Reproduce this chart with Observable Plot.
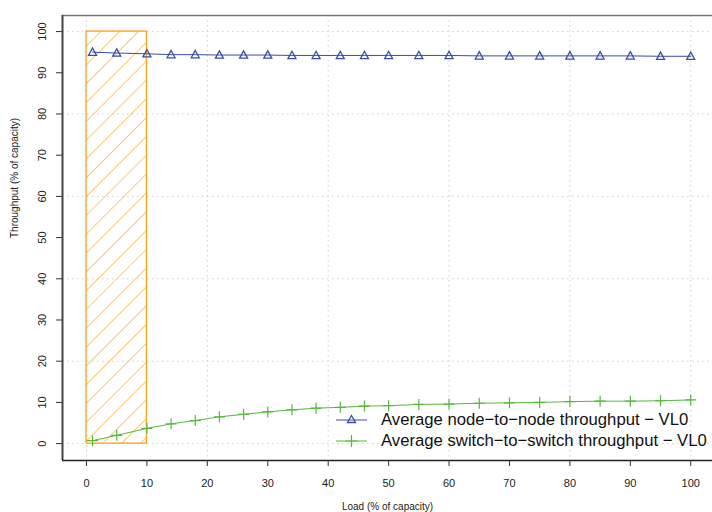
<!DOCTYPE html>
<html>
<head>
<meta charset="utf-8">
<script src="https://cdn.jsdelivr.net/npm/d3@7"></script>
<script src="https://cdn.jsdelivr.net/npm/@observablehq/plot@0.6"></script>
<style>
  body { margin: 0; background: #fff; font-family: "Liberation Sans", Arial, sans-serif; }
  #wrap { position: relative; width: 712px; height: 512px; }
  #legend { position: absolute; left: 335px; top: 409px; font-size: 16.7px; color: #111; }
  #legend .row { display: flex; align-items: center; height: 21px; }
  #legend svg { margin-right: 13px; }
</style>
</head>
<body>
<svg width="0" height="0" style="position:absolute">
  <defs>
    <pattern id="hatch" patternUnits="userSpaceOnUse" width="13.3" height="13.3" patternTransform="rotate(45)">
      <line x1="0" y1="0" x2="0" y2="13.3" stroke="#FFA21A" stroke-width="1.2"/>
    </pattern>
  </defs>
</svg>
<div id="wrap">
  <div id="chart"></div>
  <div id="legend">
    <div class="row">
      <svg width="33" height="14"><line x1="1" y1="7" x2="32" y2="7" stroke="#3A4DA8" stroke-width="1"/><path d="M16.5,2.5 L20.5,9.5 L12.5,9.5 Z" fill="none" stroke="#3A4DA8" stroke-width="1.3"/></svg>
      <span>Average node−to−node throughput − VL0</span>
    </div>
    <div class="row">
      <svg width="33" height="14"><line x1="1" y1="7" x2="32" y2="7" stroke="#55B83A" stroke-width="1"/><path d="M16.5,1 L16.5,13 M10.5,7 L22.5,7" stroke="#55B83A" stroke-width="1.2"/></svg>
      <span>Average switch−to−switch throughput − VL0</span>
    </div>
  </div>
</div>
<script>
const loads = [1, 5, 10, 14, 18, 22, 26, 30, 34, 38, 42, 46, 50, 55, 60, 65, 70, 75, 80, 85, 90, 95, 100];
const nodeToNode = [95.0, 94.8, 94.6, 94.4, 94.4, 94.3, 94.3, 94.3, 94.2, 94.2, 94.2, 94.2, 94.2, 94.2, 94.2, 94.1, 94.1, 94.1, 94.1, 94.1, 94.1, 94.0, 94.0];
const switchToSwitch = [0.7, 2.0, 3.7, 4.8, 5.6, 6.5, 7.1, 7.7, 8.2, 8.6, 8.8, 9.1, 9.2, 9.5, 9.6, 9.8, 9.9, 10.0, 10.2, 10.3, 10.3, 10.4, 10.6];
const xTicks = [0, 10, 20, 30, 40, 50, 60, 70, 80, 90, 100];
const yTicks = [0, 10, 20, 30, 40, 50, 60, 70, 80, 90, 100];
const gridX = [0, 20, 40, 60, 80, 100];
const gridY = [0, 20, 40, 60, 80, 100];
const hatchX = [0, 10];
const hatchY = [0, 100];
const xDomain = [-3.97, 103.6];
const yDomain = [-4.1, 103.9];

const blue = "#3A4DA8", green = "#55B83A", orange = "#FFA21A";
const nodeData = loads.map((x, i) => ({x, y: nodeToNode[i]}));
const switchData = loads.map((x, i) => ({x, y: switchToSwitch[i]}));

const triangle = {draw(ctx, size) { const r = Math.sqrt(size / Math.PI);
  ctx.moveTo(0, -r); ctx.lineTo(r * 0.95, r * 0.75); ctx.lineTo(-r * 0.95, r * 0.75); ctx.closePath(); }};
const plus = {draw(ctx, size) { const r = Math.sqrt(size / Math.PI);
  ctx.moveTo(-r, 0); ctx.lineTo(r, 0); ctx.moveTo(0, -r); ctx.lineTo(0, r); }};

const grid = {stroke: "#cfcfcf", strokeDasharray: "1.5,3.5", strokeWidth: 1, strokeOpacity: 1};

const chart = Plot.plot({
  width: 712, height: 512,
  marginLeft: 62, marginRight: 0, marginTop: 15, marginBottom: 52,
  style: {fontFamily: "Liberation Sans, Arial, sans-serif", background: "transparent"},
  x: {domain: xDomain, axis: null},
  y: {domain: yDomain, axis: null},
  marks: [
    Plot.ruleY(gridY, grid),
    Plot.ruleX(gridX, grid),
    Plot.rect([{x1: hatchX[0], x2: hatchX[1], y1: hatchY[0], y2: hatchY[1]}], {x1: "x1", x2: "x2", y1: "y1", y2: "y2", fill: "url(#hatch)", stroke: orange, strokeWidth: 1.3}),
    Plot.line(nodeData, {x: "x", y: "y", stroke: blue, strokeWidth: 1}),
    Plot.dot(nodeData, {x: "x", y: "y", symbol: triangle, r: 4.2, stroke: blue, fill: "none", strokeWidth: 1.3}),
    Plot.line(switchData, {x: "x", y: "y", stroke: green, strokeWidth: 1}),
    Plot.dot(switchData, {x: "x", y: "y", symbol: plus, r: 5.5, stroke: green, fill: "none", strokeWidth: 1.2}),
    // frame lines
    Plot.ruleY([yDomain[1]], {stroke: "#777", strokeWidth: 1.5}),
    Plot.ruleX([xDomain[0]], {stroke: "#444", strokeWidth: 2}),
    Plot.ruleY([yDomain[0]], {stroke: "#222", strokeWidth: 1.3}),
    // ticks
    Plot.axisY({ticks: yTicks, tickSize: 6, tickFormat: () => "", label: null, stroke: "#333"}),
    Plot.axisX({ticks: xTicks, tickSize: 6, tickFormat: () => "", label: null, stroke: "#333"}),
    Plot.text(yTicks, {y: d => d, text: d => String(d), frameAnchor: "left", dx: -20, rotate: -90, textAnchor: "middle", lineAnchor: "middle", fontSize: 11, fill: "#222"}),
    Plot.text(xTicks, {x: d => d, text: d => String(d), frameAnchor: "bottom", dy: 23, textAnchor: "middle", lineAnchor: "middle", fontSize: 11, fill: "#222"}),
    Plot.text(["Load (% of capacity)"], {frameAnchor: "bottom", dy: 46, lineAnchor: "middle", fontSize: 10, fill: "#222"}),
    Plot.text(["Throughput (% of capacity)"], {frameAnchor: "left", dx: -48, rotate: -90, lineAnchor: "middle", fontSize: 10, fill: "#222"})
  ]
});
document.getElementById("chart").appendChild(chart);
</script>
</body>
</html>
